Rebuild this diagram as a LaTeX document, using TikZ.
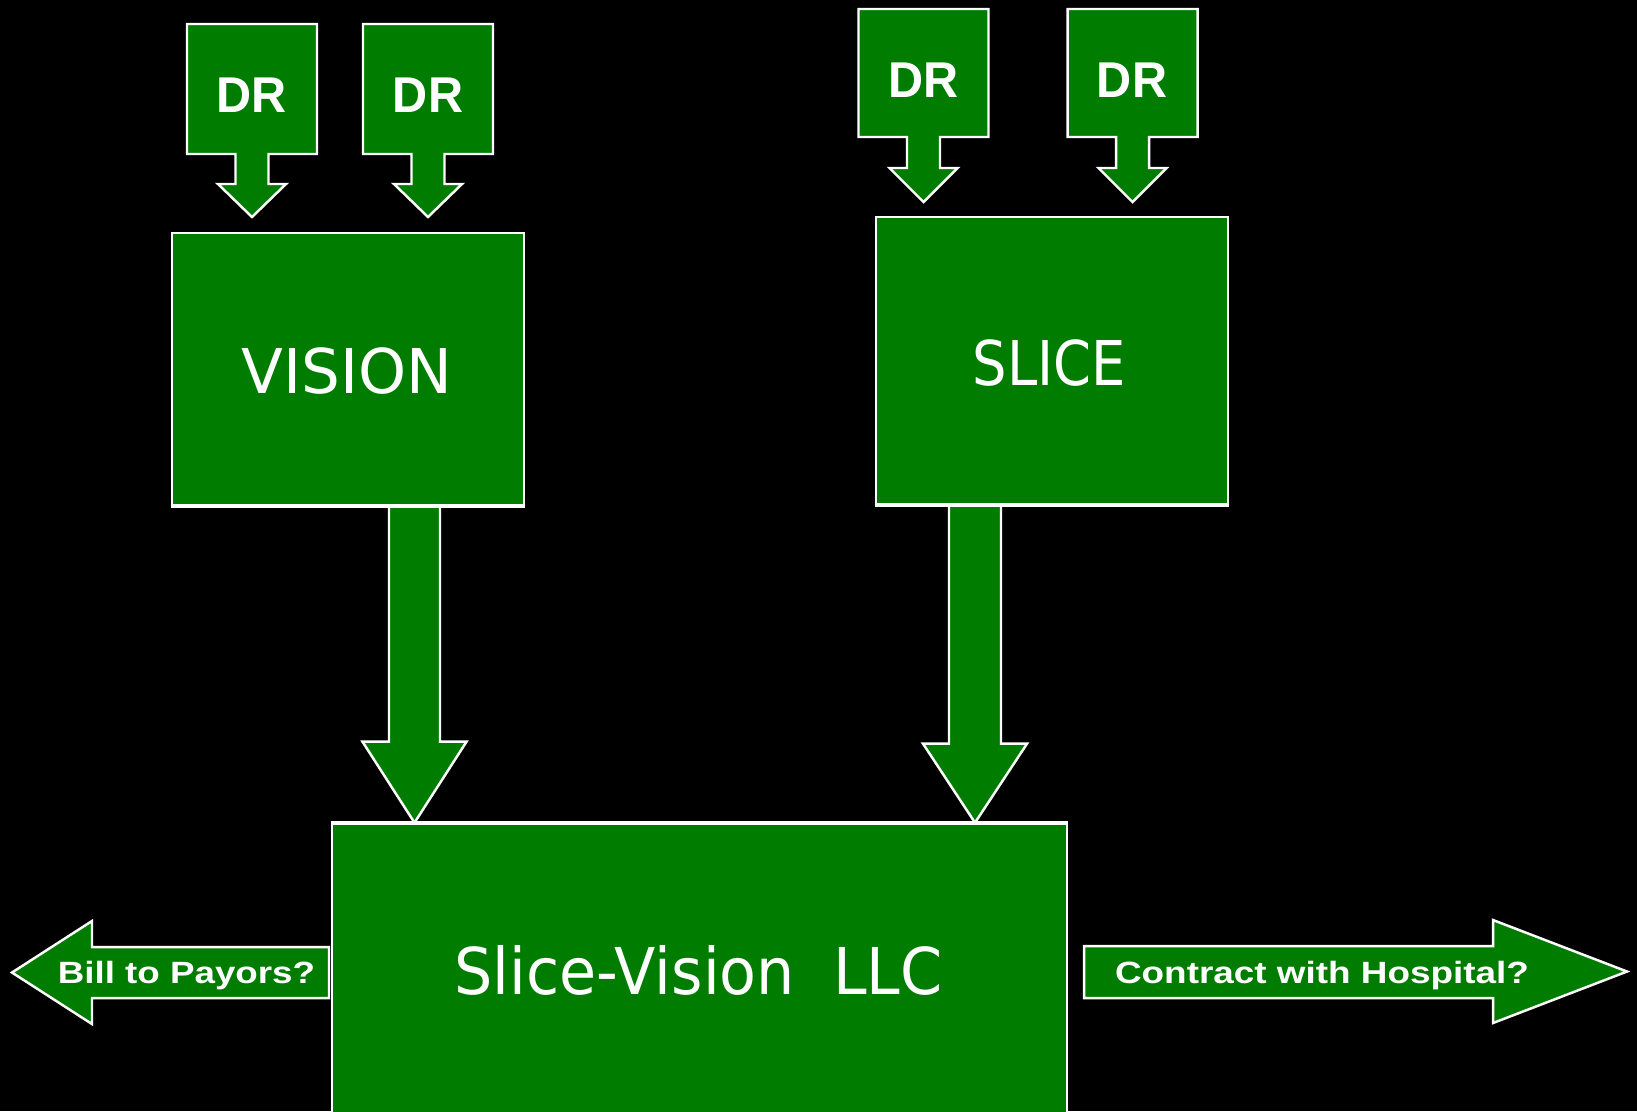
\documentclass[tikz,border=0pt]{standalone}
\usepackage{fontspec}
\setmainfont{DejaVu Sans}
\newfontfamily\boldsans{Liberation Sans}
\usetikzlibrary{calc}
\definecolor{boxgreen}{RGB}{0,125,0}
\tikzset{
  greenshape/.style={fill=boxgreen, draw=white, line width=0.7pt, line join=miter},
  greenbox/.style={greenshape, rectangle, inner sep=0pt},
  caption/.style={anchor=base, inner sep=0pt, outer sep=0pt, text=white},
}
% Block arrow pointing down: #1 top centre, #2 tip, #3 half shaft width,
% #4 half head width, #5 head length
\newcommand\blockdown[5]{%
  \draw[greenshape] ($(#1)+(-#3,0)$) -- ($(#1)+(#3,0)$) -- ($(#2)+(#3,-#5)$)
    -- ($(#2)+(#4,-#5)$) -- (#2) -- ($(#2)+(-#4,-#5)$) -- ($(#2)+(-#3,-#5)$) -- cycle;}
% "DR" callout: square with a short arrow below it
% #1 centre x, #2 top, #3 bottom, #4 head base, #5 tip
\newcommand\drcallout[5]{%
  \draw[greenshape] ({#1-65},#2) -- ({#1+65},#2) -- ({#1+65},#3) -- ({#1+16.5},#3)
    -- ({#1+16.5},#4) -- ({#1+34},#4) -- (#1,#5) -- ({#1-34},#4) -- ({#1-16.5},#4)
    -- ({#1-16.5},#3) -- ({#1-65},#3) -- cycle;}
\newcommand\drtext{\boldsans\bfseries\fontsize{14.3pt}{16pt}\selectfont\scalebox{0.965}[1]{DR}}
\newcommand\arrowtext[2]{\boldsans\bfseries\fontsize{8.74pt}{10pt}\selectfont\scalebox{#1}[1]{#2}}

\begin{document}
\begin{tikzpicture}[x=0.01cm, y=-0.01cm]
  \useasboundingbox (0,0) rectangle (1637,1111);
  \clip (0,0) rectangle (1637,1111);
  \fill[black] (0,0) rectangle (1637,1111);

  % main boxes
  \node[greenbox, minimum width=3.52cm, minimum height=2.72cm] (vision) at (348,369) {};
  \node[greenbox, minimum width=3.52cm, minimum height=2.87cm] (slice) at (1052,360.5) {};
  \node[greenbox, minimum width=7.35cm, minimum height=3.2cm] (llc) at (699.5,984) {};

  % arrows from the two practices into the LLC
  \coordinate (va) at ($(vision.south)+(66.5,0)$);
  \coordinate (vtip) at (va |- llc.north);
  \coordinate (sa) at ($(slice.south)+(-77,0)$);
  \coordinate (stip) at (sa |- llc.north);
  \blockdown{va}{vtip}{25.5}{52}{81}
  \blockdown{sa}{stip}{26}{52}{79}
  % redraw box borders over the arrow joints
  \draw[white, line width=0.7pt] (vision.south west) -- (vision.south east);
  \draw[white, line width=0.7pt] (slice.south west) -- (slice.south east);
  \draw[white, line width=0.7pt] (llc.north west) -- (llc.north east);

  % doctor callouts
  \drcallout{252}{24}{154}{184}{217}
  \drcallout{428}{24}{154}{184}{217}
  \drcallout{923.5}{9}{137}{168}{202}
  \drcallout{1132.5}{9}{137}{168}{202}
  \node[caption] (dr1) at (252,112) {\drtext};
  \node[caption] (dr2) at (428,112) {\drtext};
  \node[caption] (dr3) at (923.5,97.5) {\drtext};
  \node[caption] (dr4) at (1132,97.5) {\drtext};

  % side arrows
  \coordinate (billtip) at (12,972.5);
  \coordinate (hosptip) at (1627,971.5);
  \draw[greenshape] (329,947) -- (92,947) -- (92,921) -- (billtip) -- (92,1024)
    -- (92,998) -- (329,998) -- cycle;
  \draw[greenshape] (1084,946) -- (1493,946) -- (1493,920) -- (hosptip) -- (1493,1023)
    -- (1493,998) -- (1084,998) -- cycle;

  % labels
  \node[caption] (visionlabel) at (347,393)
    {\fontsize{17.56pt}{20pt}\selectfont\scalebox{0.99}[1]{VISION}};
  \node[caption] (slicelabel) at (1049.5,385)
    {\fontsize{17.56pt}{20pt}\selectfont\scalebox{0.88}[1]{SLICE}};
  \node[caption] (llclabel) at (698.5,994)
    {\fontsize{18.35pt}{21pt}\selectfont\scalebox{0.935}[1]{Slice-Vision\ \ LLC}};
  \node[caption] (billlabel) at (186.5,983) {\arrowtext{1.195}{Bill to Payors?}};
  \node[caption] (hosplabel) at (1322,983) {\arrowtext{1.2}{Contract with Hospital?}};
\end{tikzpicture}
\end{document}
